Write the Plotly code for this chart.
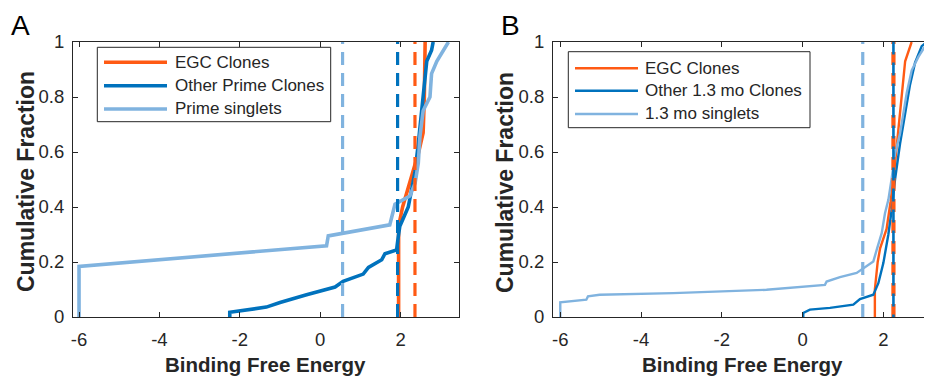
import plotly.graph_objects as go

W, H = 932, 381
OFF = 8  # default page body margin in the browser
FW, FH = W - OFF, H - OFF

# ---------------- data ----------------
# Panel A
a_egc_x = [1.95, 1.95, 2.05, 2.20, 2.32, 2.45, 2.56, 2.59, 2.61]
a_egc_y = [0, 0.33, 0.40, 0.47, 0.535, 0.60, 0.67, 0.80, 1.0]
a_other_x = [-2.25, -2.25, -1.34, -1.0, -0.34, 0.37, 0.57, 1.07, 1.2, 1.53, 1.61, 1.9, 1.94,
             1.98, 2.07, 2.19, 2.27, 2.36, 2.44, 2.52, 2.6, 2.65, 2.77, 2.81]
a_other_y = [0, 0.017, 0.036, 0.053, 0.081, 0.109, 0.13, 0.156, 0.18, 0.208, 0.23, 0.244, 0.29,
             0.33, 0.36, 0.40, 0.46, 0.53, 0.63, 0.75, 0.85, 0.93, 0.97, 1.0]
a_single_x = [-6.0, -6.0, 0.157, 0.20, 1.73, 1.86, 2.23, 2.36, 2.44, 2.48, 2.56, 2.73, 2.77, 2.9, 3.19]
a_single_y = [0, 0.184, 0.259, 0.295, 0.335, 0.41, 0.44, 0.486, 0.56, 0.655, 0.75, 0.80, 0.885, 0.93, 1.0]
a_means = [2.357, 1.925, 0.556]  # EGC, other, singlets
a_labels = ["EGC Clones", "Other Prime Clones", "Prime singlets"]

# Panel B
b_egc_x = [1.79, 1.79, 1.86, 1.92, 2.08, 2.18, 2.29, 2.37, 2.43, 2.50, 2.54, 2.70]
b_egc_y = [0, 0.10, 0.20, 0.25, 0.32, 0.42, 0.56, 0.68, 0.78, 0.86, 0.93, 1.0]
b_other_x = [0.017, 0.017, 0.182, 0.678, 1.256, 1.421, 1.752, 1.876, 2.0, 2.124, 2.207, 2.289,
             2.413, 2.537, 2.661, 2.785, 2.90, 2.95, 3.074]
b_other_y = [0, 0.015, 0.027, 0.033, 0.045, 0.065, 0.081, 0.123, 0.196, 0.30, 0.39, 0.50,
             0.63, 0.74, 0.845, 0.925, 0.97, 0.985, 1.0]
b_single_x = [-6.0, -6.0, -5.355, -5.314, -5.025, -3.207, -0.893, 0.554, 0.595, 0.926, 1.339, 1.587,
              1.752, 1.835, 1.959, 2.041, 2.124, 2.207, 2.289, 2.413, 2.496, 2.579, 2.702, 2.868,
              3.074, 3.157]
b_single_y = [0, 0.053, 0.063, 0.075, 0.081, 0.087, 0.099, 0.117, 0.129, 0.145, 0.16, 0.184,
              0.202, 0.244, 0.305, 0.377, 0.426, 0.505, 0.595, 0.667, 0.74, 0.815, 0.897, 0.946,
              0.994, 1.0]
b_means = [2.25, 2.25, 1.49]
b_labels = ["EGC Clones", "Other 1.3 mo Clones", "1.3 mo singlets"]

x_ticks = [-6, -4, -2, 0, 2]
x_ticktext = ["-6", "-4", "-2", "0", "2"]
y_ticks = [0, 0.2, 0.4, 0.6, 0.8, 1]
y_ticktext = ["0", "0.2", "0.4", "0.6", "0.8", "1"]

colors = ["#FF5A14", "#0072BD", "#80B3DF"]
TXT = "#262626"
FONT = "Liberation Sans, Arial, Helvetica, sans-serif"


def px(x):
    return (x - OFF) / FW


def py(y):
    return 1 - (y - OFF) / FH


fig = go.Figure()

panels = [
    dict(xa="x", ya="y", sets=[(a_egc_x, a_egc_y), (a_other_x, a_other_y), (a_single_x, a_single_y)],
         means=a_means, lw=3.6, dw=3.2),
    dict(xa="x2", ya="y2", sets=[(b_egc_x, b_egc_y), (b_other_x, b_other_y), (b_single_x, b_single_y)],
         means=b_means, lw=2.4, dw=3.2),
]

for p in panels:
    for (xs, ys), c in zip(p["sets"], colors):
        fig.add_trace(go.Scatter(x=xs, y=ys, mode="lines", xaxis=p["xa"], yaxis=p["ya"],
                                 line=dict(color=c, width=p["lw"]), showlegend=False,
                                 hoverinfo="skip"))
    for i, (m, c) in enumerate(zip(p["means"], colors)):
        y0 = 0.0
        width = p["dw"]
        if p["xa"] == "x2" and i == 1:
            y0 = -0.038  # phase shift so the overlapping dashes alternate
            width = 2.6
        if p["xa"] == "x2" and i == 0:
            width = 4.2
        fig.add_trace(go.Scatter(x=[m, m], y=[y0, 1.0], mode="lines", xaxis=p["xa"], yaxis=p["ya"],
                                 line=dict(color=c, width=width, dash="13px,8px"),
                                 showlegend=False, hoverinfo="skip"))

axis_common = dict(showline=True, linecolor=TXT, linewidth=1, mirror="allticks", ticks="inside",
                   ticklen=5, tickcolor=TXT, tickwidth=1, showgrid=False, zeroline=False,
                   automargin=False, tickfont=dict(family=FONT, size=18.5, color=TXT))

fig.update_layout(
    template="none",
    width=FW, height=FH, margin=dict(l=0, r=0, t=0, b=0, autoexpand=False),
    paper_bgcolor="white", plot_bgcolor="white",
    xaxis=dict(domain=[px(73), px(458.5)], range=[-6.15, 3.44], tickvals=x_ticks, ticktext=x_ticktext,
               anchor="y", ticklabelstandoff=6, **axis_common),
    yaxis=dict(domain=[py(317), py(42)], range=[0, 1], tickvals=y_ticks, ticktext=y_ticktext,
               anchor="x", ticklabelstandoff=4, **axis_common),
    xaxis2=dict(domain=[px(553), px(931)], range=[-6.18, 3.18], tickvals=x_ticks, ticktext=x_ticktext,
                anchor="y2", ticklabelstandoff=6, **axis_common),
    yaxis2=dict(domain=[py(317), py(42)], range=[0, 1], tickvals=y_ticks, ticktext=y_ticktext,
                anchor="x2", ticklabelstandoff=4, **axis_common),
)

annotations = []
shapes = []

# axis titles and panel letters
for cx, ycx, letter, lx in [((73 + 458.5) / 2, 26, "A", 9), ((553 + 931) / 2, 505, "B", 499)]:
    annotations.append(dict(text="<b>Binding Free Energy</b>", x=px(cx), y=py(364), xref="paper",
                            yref="paper", xanchor="center", yanchor="middle", showarrow=False,
                            font=dict(family=FONT, size=20.5, color=TXT)))
    annotations.append(dict(text="<b>Cumulative Fraction</b>", x=px(ycx), y=py(182), xref="paper",
                            yref="paper", xanchor="center", yanchor="middle", showarrow=False,
                            textangle=-90, font=dict(family=FONT, size=23, color=TXT)))
    annotations.append(dict(text=letter, x=px(lx), y=py(OFF), xref="paper", yref="paper",
                            xanchor="left", yanchor="top", showarrow=False,
                            font=dict(family=FONT, size=28, color="black")))

# manual legends
legends = [
    dict(box=(97.3, 47.3, 330.7, 121.7), line=(104, 167), tx=172.5, rows=[62.3, 85.7, 109.0],
         labels=a_labels, lw=3.6),
    dict(box=(568.3, 51.7, 810, 127.7), line=(575, 638), tx=643, rows=[68.3, 90.7, 114.0],
         labels=b_labels, lw=2.4),
]
for lg in legends:
    x0, y0, x1, y1 = lg["box"]
    shapes.append(dict(type="rect", xref="paper", yref="paper", x0=px(x0), x1=px(x1), y0=py(y1), y1=py(y0),
                       line=dict(color=TXT, width=1), fillcolor="white", layer="above"))
    for r, lab, c in zip(lg["rows"], lg["labels"], colors):
        shapes.append(dict(type="line", xref="paper", yref="paper", x0=px(lg["line"][0]), x1=px(lg["line"][1]),
                           y0=py(r), y1=py(r), line=dict(color=c, width=lg["lw"]), layer="above"))
        annotations.append(dict(text=lab, x=px(lg["tx"]), y=py(r), xref="paper", yref="paper",
                                xanchor="left", yanchor="middle", showarrow=False,
                                font=dict(family=FONT, size=17, color=TXT)))

fig.update_layout(annotations=annotations, shapes=shapes)

fig.write_html("out.html")
